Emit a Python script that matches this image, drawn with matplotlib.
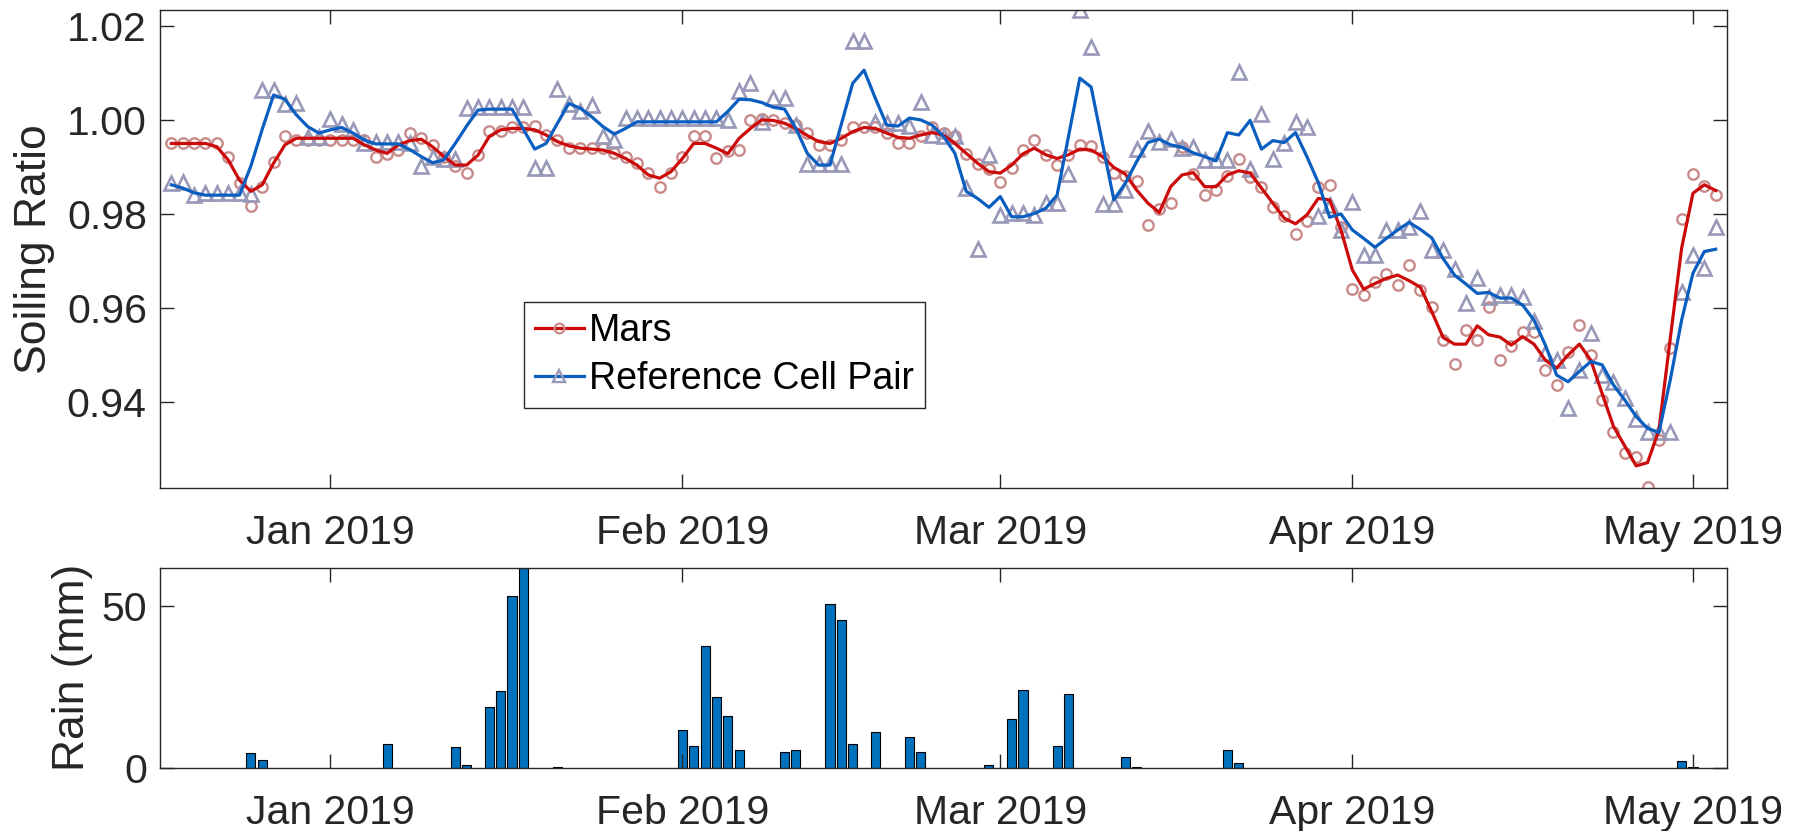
import numpy as np
import pandas as pd
import matplotlib.pyplot as plt
import matplotlib.dates as mdates
from matplotlib.lines import Line2D

plt.rcParams['font.family'] = ['Liberation Sans', 'DejaVu Sans']

# daily soiling ratio from 18 Dec 2018 to 3 May 2019
start_date = '2018-12-18'

mars_pts = [
    0.9952, 0.9952, 0.9952, 0.9952, 0.9952, 0.9921, 0.9865, 0.9816, 0.9858, 0.9911,
    0.9965, 0.9957, 0.9957, 0.9957, 0.9957, 0.9957, 0.9957, 0.9957, 0.9922, 0.9928,
    0.9936, 0.9973, 0.9961, 0.9947, 0.9922, 0.9902, 0.9887, 0.9926, 0.9977, 0.9977,
    0.9986, 0.9986, 0.9987, 0.9968, 0.9957, 0.9940, 0.9940, 0.9940, 0.9940, 0.9929,
    0.9922, 0.9908, 0.9888, 0.9857, 0.9888, 0.9921, 0.9966, 0.9966, 0.9919, 0.9933,
    0.9936, 1.0000, 1.0001, 0.9999, 0.9993, 0.9989, 0.9972, 0.9947, 0.9947, 0.9957,
    0.9986, 0.9984, 0.9985, 0.9972, 0.9950, 0.9952, 0.9966, 0.9986, 0.9973, 0.9965,
    0.9928, 0.9906, 0.9895, 0.9869, 0.9897, 0.9936, 0.9957, 0.9926, 0.9904, 0.9926,
    0.9947, 0.9945, 0.9922, 0.9888, 0.9881, 0.9871, 0.9777, 0.9810, 0.9824, 0.9943,
    0.9885, 0.9840, 0.9850, 0.9881, 0.9916, 0.9878, 0.9858, 0.9814, 0.9796, 0.9757,
    0.9784, 0.9857, 0.9862, 0.9773, 0.9640, 0.9628, 0.9656, 0.9672, 0.9649, 0.9691,
    0.9638, 0.9603, 0.9532, 0.9481, 0.9553, 0.9532, 0.9603, 0.9489, 0.9519, 0.9548,
    0.9548, 0.9467, 0.9436, 0.9507, 0.9564, 0.9500, 0.9404, 0.9337, 0.9292, 0.9282,
    0.9218, 0.9319, 0.9514, 0.9789, 0.9885, 0.9860, 0.9840,
]

mars_avg = [
    0.9950, 0.9950, 0.9950, 0.9950, 0.9943, 0.9915, 0.9872, 0.9848, 0.9862, 0.9908,
    0.9947, 0.9961, 0.9961, 0.9961, 0.9961, 0.9961, 0.9961, 0.9947, 0.9936, 0.9929,
    0.9947, 0.9956, 0.9959, 0.9943, 0.9922, 0.9904, 0.9904, 0.9925, 0.9965, 0.9979,
    0.9982, 0.9982, 0.9979, 0.9968, 0.9954, 0.9945, 0.9940, 0.9938, 0.9936, 0.9929,
    0.9918, 0.9904, 0.9883, 0.9876, 0.9890, 0.9918, 0.9950, 0.9950, 0.9940, 0.9928,
    0.9961, 0.9982, 1.0000, 0.9999, 0.9993, 0.9982, 0.9967, 0.9954, 0.9950, 0.9961,
    0.9975, 0.9984, 0.9982, 0.9972, 0.9963, 0.9961, 0.9968, 0.9973, 0.9968, 0.9950,
    0.9929, 0.9908, 0.9890, 0.9887, 0.9904, 0.9928, 0.9940, 0.9926, 0.9918, 0.9926,
    0.9938, 0.9936, 0.9922, 0.9899, 0.9885, 0.9851, 0.9823, 0.9803, 0.9858, 0.9883,
    0.9888, 0.9858, 0.9858, 0.9883, 0.9892, 0.9887, 0.9855, 0.9823, 0.9791, 0.9779,
    0.9798, 0.9833, 0.9830, 0.9766, 0.9681, 0.9640, 0.9652, 0.9663, 0.9670, 0.9658,
    0.9644, 0.9592, 0.9537, 0.9523, 0.9523, 0.9562, 0.9543, 0.9538, 0.9521, 0.9539,
    0.9523, 0.9489, 0.9472, 0.9500, 0.9523, 0.9489, 0.9418, 0.9348, 0.9306, 0.9264,
    0.9271, 0.9340, 0.9535, 0.9727, 0.9844, 0.9862, 0.9850,
]

ref_pts = [
    0.9865, 0.9867, 0.9840, 0.9845, 0.9845, 0.9845, 0.9845, 0.9843, 1.0064, 1.0064,
    1.0035, 1.0037, 0.9963, 0.9963, 1.0003, 0.9992, 0.9979, 0.9950, 0.9954, 0.9954,
    0.9954, 0.9950, 0.9902, 0.9922, 0.9916, 0.9916, 1.0025, 1.0027, 1.0027, 1.0027,
    1.0027, 1.0027, 0.9897, 0.9897, 1.0065, 1.0034, 1.0018, 1.0032, 0.9965, 0.9957,
    1.0004, 1.0004, 1.0004, 1.0004, 1.0004, 1.0004, 1.0004, 1.0004, 1.0004, 1.0000,
    1.0062, 1.0079, 0.9996, 1.0046, 1.0046, 0.9989, 0.9906, 0.9906, 0.9906, 0.9906,
    1.0167, 1.0167, 0.9996, 0.9993, 0.9993, 0.9987, 1.0039, 0.9968, 0.9965, 0.9966,
    0.9855, 0.9726, 0.9926, 0.9798, 0.9801, 0.9801, 0.9798, 0.9824, 0.9824, 0.9885,
    1.0234, 1.0155, 0.9821, 0.9821, 0.9850, 0.9938, 0.9977, 0.9954, 0.9959, 0.9940,
    0.9942, 0.9915, 0.9915, 0.9915, 1.0102, 0.9895, 1.0013, 0.9916, 0.9952, 0.9996,
    0.9986, 0.9796, 0.9819, 0.9766, 0.9826, 0.9713, 0.9713, 0.9765, 0.9765, 0.9773,
    0.9807, 0.9723, 0.9723, 0.9682, 0.9611, 0.9663, 0.9623, 0.9628, 0.9628, 0.9624,
    0.9573, 0.9504, 0.9489, 0.9387, 0.9467, 0.9546, 0.9457, 0.9443, 0.9408, 0.9363,
    0.9337, 0.9337, 0.9337, 0.9635, 0.9713, 0.9686, 0.9773,
]

ref_avg = [
    0.9862, 0.9855, 0.9845, 0.9840, 0.9840, 0.9840, 0.9840, 0.9902, 0.9980, 1.0053,
    1.0044, 1.0011, 0.9986, 0.9972, 0.9979, 0.9984, 0.9972, 0.9957, 0.9949, 0.9949,
    0.9949, 0.9937, 0.9922, 0.9909, 0.9915, 0.9950, 0.9987, 1.0021, 1.0023, 1.0023,
    1.0023, 0.9980, 0.9938, 0.9950, 0.9993, 1.0035, 1.0025, 1.0007, 0.9986, 0.9970,
    0.9982, 0.9996, 0.9996, 0.9996, 0.9996, 0.9996, 0.9996, 0.9996, 0.9996, 1.0018,
    1.0044, 1.0043, 1.0037, 1.0027, 1.0023, 0.9982, 0.9929, 0.9904, 0.9904, 0.9991,
    1.0078, 1.0106, 1.0046, 0.9989, 0.9987, 1.0004, 1.0000, 0.9989, 0.9965, 0.9929,
    0.9848, 0.9833, 0.9814, 0.9837, 0.9794, 0.9794, 0.9801, 0.9812, 0.9840, 0.9965,
    1.0089, 1.0070, 0.9950, 0.9830, 0.9865, 0.9911, 0.9952, 0.9959, 0.9947, 0.9942,
    0.9930, 0.9922, 0.9913, 0.9973, 0.9968, 0.9999, 0.9938, 0.9956, 0.9952, 0.9973,
    0.9922, 0.9867, 0.9793, 0.9800, 0.9766, 0.9748, 0.9729, 0.9748, 0.9766, 0.9782,
    0.9767, 0.9749, 0.9705, 0.9670, 0.9651, 0.9631, 0.9633, 0.9621, 0.9621, 0.9606,
    0.9574, 0.9521, 0.9457, 0.9443, 0.9465, 0.9486, 0.9479, 0.9436, 0.9404, 0.9369,
    0.9344, 0.9335, 0.9447, 0.9574, 0.9674, 0.9720, 0.9725,
]

rain_dates = [
    '2018-12-25', '2018-12-26', '2019-01-06', '2019-01-12', '2019-01-13',
    '2019-01-15', '2019-01-16', '2019-01-17', '2019-01-18', '2019-01-21',
    '2019-02-01', '2019-02-02', '2019-02-03', '2019-02-04', '2019-02-05',
    '2019-02-06', '2019-02-10', '2019-02-11', '2019-02-14', '2019-02-15',
    '2019-02-16', '2019-02-18', '2019-02-21', '2019-02-22', '2019-02-28',
    '2019-03-02', '2019-03-03', '2019-03-06', '2019-03-07', '2019-03-12',
    '2019-03-13', '2019-03-21', '2019-03-22', '2019-04-30', '2019-05-01',
]
rain_mm = [
    4.4, 2.3, 7.4, 6.4, 0.8,
    18.6, 23.7, 53.1, 61.8, 0.2,
    11.6, 6.7, 37.7, 21.8, 15.9,
    5.5, 4.8, 5.5, 50.5, 45.7,
    7.4, 11.0, 9.6, 4.8, 0.9,
    14.9, 24.0, 6.8, 22.8, 3.4,
    0.3, 5.5, 1.5, 2.0, 0.3,
]

days = pd.date_range(start_date, periods=len(mars_pts), freq='D')
rain_days = pd.to_datetime(rain_dates)

red = '#cc0a0a'
blue = '#0a5ec0'
rose = '#c98a8a'
lav = '#9898b8'
axc = '#262626'

fig = plt.figure(figsize=(18.02, 8.31), dpi=100)
ax1 = fig.add_axes([0.0888, 0.4128, 0.8696, 0.5752])
ax2 = fig.add_axes([0.0888, 0.0762, 0.8696, 0.2407])

ax1.plot(days, mars_pts, 'o', mfc='none', mec=rose, ms=7.5, mew=1.7, zorder=2)
ax1.plot(days, ref_pts, '^', mfc='none', mec=lav, ms=9.5, mew=1.9, zorder=2)
ax1.plot(days, mars_avg, color=red, lw=2.3, zorder=3)
ax1.plot(days, ref_avg, color=blue, lw=2.3, zorder=4)

ax1.set_ylim(0.9217, 1.0234)
ax1.set_yticks([0.94, 0.96, 0.98, 1.00, 1.02])
ax1.set_yticklabels(['0.94', '0.96', '0.98', '1.00', '1.02'])
ax1.set_ylabel('Soiling Ratio', fontsize=32, color=axc)
ax1.yaxis.set_label_coords(-0.067, 0.5)

handles = [
    Line2D([], [], color=red, lw=2.3, marker='o', mfc='none', mec=rose, ms=7, mew=1.6),
    Line2D([], [], color=blue, lw=2.3, marker='^', mfc='none', mec=lav, ms=9, mew=1.7),
]
leg = ax1.legend(handles, ['Mars', 'Reference Cell Pair'], loc='upper left',
                 bbox_to_anchor=(0.232, 0.39), fontsize=27, fancybox=False,
                 framealpha=1, edgecolor=axc, handlelength=1.3, handletextpad=0.15,
                 borderpad=0.3, labelspacing=0.33, borderaxespad=0)
leg.get_frame().set_linewidth(1.0)

ax2.bar(rain_days, rain_mm, width=0.8, color='#0072bd', edgecolor='black', linewidth=0.8)
ax2.set_ylim(0, 61.8)
ax2.set_yticks([0, 50])
ax2.set_ylabel('Rain (mm)', fontsize=32, color=axc)
ax2.yaxis.set_label_coords(-0.043, 0.5)

for ax in (ax1, ax2):
    ax.set_xlim(pd.Timestamp('2018-12-17'), pd.Timestamp('2019-05-04'))
    ax.xaxis.set_major_locator(mdates.MonthLocator())
    ax.xaxis.set_major_formatter(mdates.DateFormatter('%b %Y'))
    ax.tick_params(direction='in', length=10, width=1, top=True, right=True,
                   labelsize=29.5, colors=axc)
    ax.tick_params(axis='x', pad=19)
    ax.tick_params(axis='y', pad=9.5)
    for s in ax.spines.values():
        s.set_color(axc)
        s.set_linewidth(1.0)

fig.savefig('out.png', dpi=100)
